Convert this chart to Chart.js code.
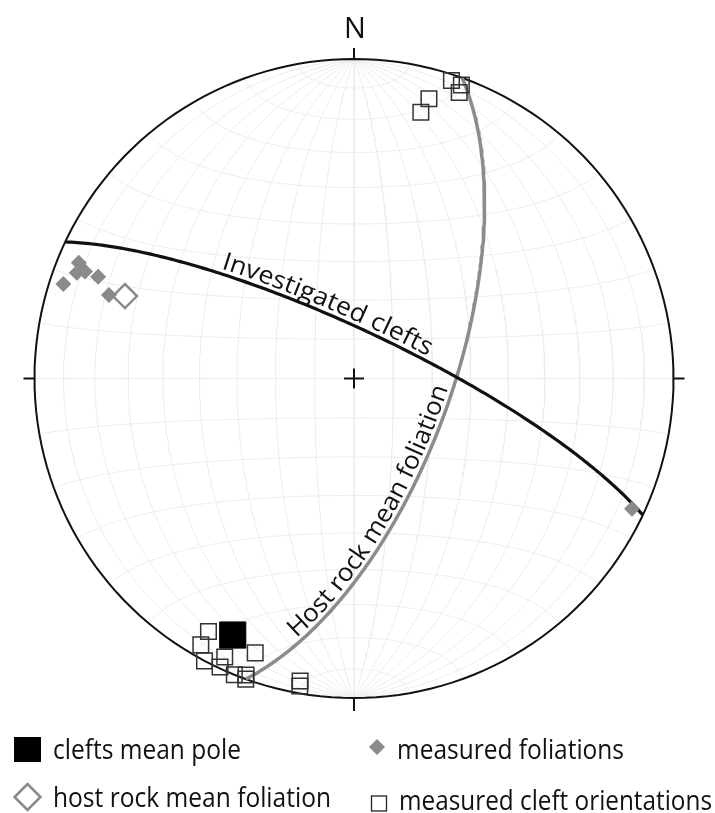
<!DOCTYPE html>
<html>
<head>
<meta charset="utf-8">
<script src="https://cdn.jsdelivr.net/npm/chart.js@4.4.0/dist/chart.umd.min.js"></script>
<style>
  html, body { margin: 0; padding: 0; background: #fff; }
  canvas { display: block; }
</style>
</head>
<body>
<canvas id="net" width="715" height="813"></canvas>
<script>
// lower hemisphere, equal area (Schmidt) net. all values in degrees
// poles of measured cleft planes
const cleftTrend  = [18.1, 20.1, 20.2, 15.0, 14.1, 209.9, 209.9, 204.9, 199.8, 207.9, 204.9, 202.0, 200.0, 199.8, 190.1, 190.0];
const cleftPlunge = [2.1, 2.5, 5.2, 10.3, 15.2, 9.5, 4.3, 4.4, 9.6, 0, 0.5, 0, 1.4, 0, 4.3, 2.6];
// poles of measured foliations
const foliTrend  = [292.8, 290.9, 291.7, 291.7, 288.0, 288.8, 115.1];
const foliPlunge = [7.3, 7.9, 10.3, 14.9, 4.9, 20.1, 4.4];
// mean poles
const meanPoleTrend = [205.3], meanPolePlunge = [12.2];
const hostPoleTrend = [289.8], hostPolePlunge = [24.8];
// planes drawn as great circles: dip direction / dip
const planeNames  = ['Investigated clefts', 'Host rock mean foliation'];
const planeDipDir = [25.3, 109.8];
const planeDip    = [77.8, 65.2];
const legendLabels = ['clefts mean pole', 'measured foliations', 'host rock mean foliation', 'measured cleft orientations'];

const D = Math.PI / 180;

function project(trend, plunge) {
  const t = trend * D, p = plunge * D;
  const r = Math.SQRT2 * Math.sin((Math.PI / 2 - p) / 2);
  return { x: r * Math.sin(t), y: r * Math.cos(t) };
}

// unit vector (east, north, down) -> equal area
function fromVec(e, n, d) {
  const k = 1 / Math.sqrt(1 + d);
  return { x: e * k, y: n * k };
}

function greatCircle(dipDir, dip) {
  const st = (dipDir - 90) * D, dd = dipDir * D, dp = dip * D;
  const pts = [];
  for (let i = 0; i <= 180; i++) {
    const a = i * D;
    const e = Math.cos(a) * Math.sin(st) + Math.sin(a) * Math.sin(dd) * Math.cos(dp);
    const n = Math.cos(a) * Math.cos(st) + Math.sin(a) * Math.cos(dd) * Math.cos(dp);
    const d = Math.sin(a) * Math.sin(dp);
    pts.push(fromVec(e, n, d));
  }
  return pts;
}

// small circle around the N-S axis, half angle c
function smallCircle(c) {
  const pts = [];
  for (let i = 0; i <= 180; i++) {
    const f = i * D;
    pts.push(fromVec(Math.sin(c * D) * Math.cos(f), Math.cos(c * D), Math.sin(c * D) * Math.sin(f)));
  }
  return pts;
}

const toPts = (tr, pl) => tr.map((t, i) => project(t, pl[i]));

const gridLines = [];
for (let dip = 10; dip <= 90; dip += 10) {
  gridLines.push(greatCircle(90, dip));
  if (dip < 90) gridLines.push(greatCircle(270, dip));
}
for (let c = 10; c <= 170; c += 10) gridLines.push(smallCircle(c));

const primitive = [];
for (let a = 0; a <= 360; a += 2) primitive.push({ x: Math.sin(a * D), y: Math.cos(a * D) });

const lineSet = (pts, color, width, order) => ({
  data: pts, showLine: true, pointRadius: 0, borderColor: color, borderWidth: width,
  fill: false, tension: 0, order: order, clip: false
});

const datasets = [
  {
    data: toPts(meanPoleTrend, meanPolePlunge), pointStyle: 'rect', pointRadius: 18.5,
    pointBackgroundColor: '#000', pointBorderColor: '#000', pointBorderWidth: 1, order: 0, clip: false
  },
  {
    data: toPts(cleftTrend, cleftPlunge), pointStyle: 'rect', pointRadius: 11,
    pointBackgroundColor: 'rgba(0,0,0,0)', pointBorderColor: '#333', pointBorderWidth: 1.5, order: 1, clip: false
  },
  {
    data: toPts(hostPoleTrend, hostPolePlunge), pointStyle: 'rectRot', pointRadius: 12,
    pointBackgroundColor: 'rgba(0,0,0,0)', pointBorderColor: '#8a8a8a', pointBorderWidth: 2.5, order: 1, clip: false
  },
  {
    data: toPts(foliTrend, foliPlunge), pointStyle: 'rectRot', pointRadius: 8,
    pointBackgroundColor: '#8a8a8a', pointBorderColor: '#8a8a8a', pointBorderWidth: 0, order: 2, clip: false
  },
  lineSet(greatCircle(planeDipDir[0], planeDip[0]), '#111', 3.2, 3),
  lineSet(greatCircle(planeDipDir[1], planeDip[1]), '#8c8c8c', 3.5, 4),
  lineSet(primitive, '#111', 2, 5)
].concat(gridLines.map(g => lineSet(g, '#ececec', 1, 10)));

// characters along a pixel path, squeezed horizontally by sx
function textOnPath(ctx, pts, text, start, gap, sx) {
  const cum = [0];
  for (let i = 1; i < pts.length; i++) {
    cum.push(cum[i - 1] + Math.hypot(pts[i].x - pts[i - 1].x, pts[i].y - pts[i - 1].y));
  }
  const at = s => {
    let i = 1;
    while (i < cum.length - 1 && cum[i] < s) i++;
    const f = (s - cum[i - 1]) / (cum[i] - cum[i - 1] || 1);
    const p = pts[i - 1], q = pts[i];
    return { x: p.x + (q.x - p.x) * f, y: p.y + (q.y - p.y) * f, a: Math.atan2(q.y - p.y, q.x - p.x) };
  };
  let s = start;
  for (const ch of text) {
    const w = ctx.measureText(ch).width * sx;
    const p = at(s + w / 2);
    ctx.save();
    ctx.translate(p.x, p.y);
    ctx.rotate(p.a);
    ctx.scale(sx, 1);
    ctx.fillText(ch, -w / 2 / sx, -gap);
    ctx.restore();
    s += w;
  }
}

function squeeze(ctx, text, width) {
  let w = 0;
  for (const ch of text) w += ctx.measureText(ch).width;
  return width / w;
}

function legendText(ctx, text, x, base, width) {
  ctx.font = '27px "Open Sans"';
  const sx = width / ctx.measureText(text).width;
  ctx.save();
  ctx.translate(x, base);
  ctx.scale(sx, 1);
  ctx.fillText(text, 0, 0);
  ctx.restore();
}

const overlay = {
  id: 'overlay',
  afterDatasetsDraw(chart) {
    const { ctx, scales: { x, y } } = chart;
    const cx = x.getPixelForValue(0), cy = y.getPixelForValue(0);
    const L = x.getPixelForValue(-1), R = x.getPixelForValue(1);
    const T = y.getPixelForValue(1), B = y.getPixelForValue(-1);
    ctx.save();
    ctx.strokeStyle = '#111';
    ctx.lineWidth = 2;
    ctx.beginPath();
    ctx.moveTo(cx, T); ctx.lineTo(cx, T - 11);
    ctx.moveTo(cx, B); ctx.lineTo(cx, B + 13);
    ctx.moveTo(L, cy); ctx.lineTo(L - 11, cy);
    ctx.moveTo(R, cy); ctx.lineTo(R + 11, cy);
    ctx.moveTo(cx - 10, cy); ctx.lineTo(cx + 10, cy);
    ctx.moveTo(cx, cy - 10); ctx.lineTo(cx, cy + 10);
    ctx.stroke();

    ctx.fillStyle = '#111';
    ctx.textAlign = 'center';
    ctx.textBaseline = 'alphabetic';
    ctx.font = '29px "Open Sans"';
    ctx.fillText('N', cx + 1, 38);

    // curved labels on the two great circles
    ctx.textAlign = 'left';
    const clefts = chart.getDatasetMeta(4).data.map(p => ({ x: p.x, y: p.y }));
    const host = chart.getDatasetMeta(5).data.map(p => ({ x: p.x, y: p.y })).reverse();
    ctx.font = '25px "Open Sans"';
    textOnPath(ctx, clefts, planeNames[0], 158, 5, squeeze(ctx, planeNames[0], 224));
    textOnPath(ctx, host, planeNames[1], 66, 5, squeeze(ctx, planeNames[1], 298));

    // legend
    ctx.fillStyle = '#000';
    ctx.fillRect(14, 737, 27, 25);
    ctx.fillStyle = '#8a8a8a';
    ctx.beginPath();
    ctx.moveTo(377, 739); ctx.lineTo(385, 747); ctx.lineTo(377, 755); ctx.lineTo(369, 747);
    ctx.closePath(); ctx.fill();
    ctx.strokeStyle = '#8a8a8a';
    ctx.lineWidth = 2.5;
    ctx.beginPath();
    ctx.moveTo(27.5, 784); ctx.lineTo(40.5, 797); ctx.lineTo(27.5, 810); ctx.lineTo(14.5, 797);
    ctx.closePath(); ctx.stroke();
    ctx.strokeStyle = '#222';
    ctx.lineWidth = 1.3;
    ctx.strokeRect(371.5, 796, 15, 15);

    ctx.fillStyle = '#111';
    legendText(ctx, legendLabels[0], 53, 759, 188);
    legendText(ctx, legendLabels[1], 397, 759, 227);
    legendText(ctx, legendLabels[2], 53, 807, 278);
    legendText(ctx, legendLabels[3], 399, 810, 313);
    ctx.restore();
  }
};

new Chart(document.getElementById('net'), {
  type: 'scatter',
  data: { datasets: datasets },
  options: {
    responsive: false,
    devicePixelRatio: 1,
    animation: false,
    events: [],
    layout: { padding: { left: 34.5, right: 41.5, top: 59, bottom: 115 } },
    scales: {
      x: { type: 'linear', min: -1, max: 1, display: false },
      y: { type: 'linear', min: -1, max: 1, display: false }
    },
    plugins: { legend: { display: false }, tooltip: { enabled: false } }
  },
  plugins: [overlay]
});
</script>
</body>
</html>
